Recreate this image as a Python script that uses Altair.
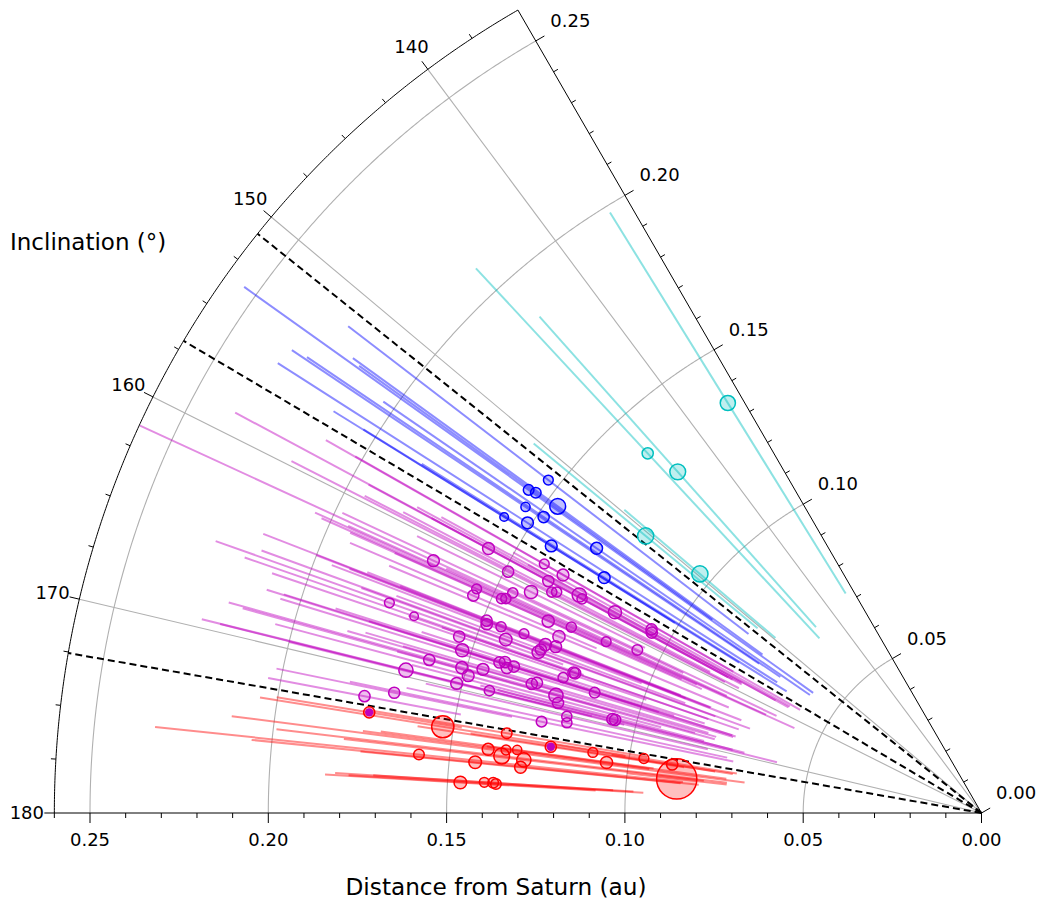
import numpy as np
import pandas as pd
import altair as alt

# ------------------------------------------------------------------
# Data: inclination (deg), semi-major axis a (au),
# apocentre Q (au) and marker radius for each moon, by group
# ------------------------------------------------------------------
cyan_inc = [136.31, 144.65, 143.76, 150.36, 149.75]
cyan_a   = [0.1352, 0.1376, 0.1281, 0.1221, 0.1036]
cyan_Q   = [0.1980, 0.2084, 0.1864, 0.1628, 0.1314]
cyan_s   = [8.0, 6.0, 8.3, 8.5, 8.5]

blue_inc = [151.84, 153.37, 153.23, 153.08, 154.60, 156.15, 154.46, 155.56, 156.13, 154.11, 156.03]
blue_a   = [0.1532, 0.1560, 0.1539, 0.1467, 0.1540, 0.1575, 0.1482, 0.1511, 0.1420, 0.1310, 0.1247]
blue_Q   = [0.2240, 0.2540, 0.2149, 0.2176, 0.2329, 0.2138, 0.2283, 0.2342, 0.2040, 0.2036, 0.1850]
blue_s   = [5.3, 5.7, 5.7, 8.3, 5.0, 4.7, 6.0, 6.3, 6.3, 6.3, 6.3]

mag_inc = [158.84, 161.46, 157.75, 157.78, 159.74, 158.87, 162.05, 162.63, 161.95, 161.80,
           161.14, 160.40, 159.59, 159.39, 158.66, 158.85, 165.34, 165.66, 158.47, 164.07,
           164.34, 164.11, 163.95, 162.08, 161.71, 158.18, 158.49, 166.00, 164.98, 163.01,
           164.00, 164.16, 165.04, 164.73, 161.60, 160.99, 166.95, 168.38, 169.55, 166.99,
           166.82, 167.26, 166.96, 168.28, 168.77, 167.94, 169.60, 165.75, 165.77, 166.56,
           167.99, 167.76, 169.53, 171.32, 171.96, 168.42, 169.08, 167.04, 170.17, 170.79,
           171.20, 169.30, 169.31]
mag_a = [0.1569, 0.1692, 0.1411, 0.1350, 0.1490, 0.1378, 0.1549, 0.1550, 0.1474, 0.1463,
         0.1452, 0.1407, 0.1355, 0.1343, 0.1283, 0.1271, 0.1762, 0.1684, 0.1172, 0.1489,
         0.1485, 0.1445, 0.1378, 0.1329, 0.1263, 0.1059, 0.1054, 0.1546, 0.1420, 0.1284,
         0.1282, 0.1311, 0.1322, 0.1318, 0.1157, 0.1068, 0.1526, 0.1607, 0.1663, 0.1416,
         0.1402, 0.1392, 0.1374, 0.1513, 0.1490, 0.1455, 0.1516, 0.1210, 0.1205, 0.1233,
         0.1312, 0.1299, 0.1422, 0.1681, 0.1761, 0.1238, 0.1227, 0.1136, 0.1194, 0.1190,
         0.1260, 0.1068, 0.1060]
mag_Q = [0.2375, 0.2598, 0.2021, 0.2115, 0.2172, 0.1950, 0.1937, 0.1926, 0.2027, 0.2050,
         0.1980, 0.1763, 0.1945, 0.1828, 0.1800, 0.1750, 0.2279, 0.2187, 0.1727, 0.2161,
         0.1950, 0.2000, 0.1850, 0.1800, 0.1950, 0.1503, 0.1450, 0.2100, 0.2149, 0.1800,
         0.1750, 0.1900, 0.1850, 0.1750, 0.1650, 0.1500, 0.2050, 0.2150, 0.2200, 0.2100,
         0.1900, 0.2056, 0.1800, 0.2192, 0.2050, 0.1688, 0.2000, 0.1700, 0.1600, 0.1650,
         0.1850, 0.1800, 0.2253, 0.2018, 0.2036, 0.1700, 0.1650, 0.1550, 0.1600, 0.1650,
         0.1809, 0.1450, 0.1400]
mag_s = [6.3, 6.3, 5.3, 6.3, 6.0, 6.0, 5.3, 6.0, 5.5, 5.5,
         5.5, 7.0, 5.5, 5.5, 7.5, 5.5, 5.3, 4.7, 7.0, 6.0,
         6.0, 5.5, 5.3, 6.5, 5.5, 6.0, 6.0, 6.0, 6.7, 6.5,
         6.3, 6.5, 6.7, 6.0, 5.3, 5.7, 7.0, 6.0, 7.5, 6.0,
         6.0, 6.0, 6.0, 6.5, 6.3, 6.3, 6.3, 6.0, 6.0, 5.5,
         6.0, 6.0, 5.5, 6.0, 6.0, 7.5, 6.0, 5.7, 5.5, 5.5,
         5.7, 6.0, 6.0]

red_inc = [173.00, 173.18, 172.85, 173.44, 175.55, 174.48, 174.34, 174.20, 174.92, 175.04,
           175.75, 175.71, 173.36, 174.25, 173.12, 173.32, 175.22, 177.49, 177.35, 177.34, 177.44]
red_a   = [0.1740, 0.1530, 0.1350, 0.1222, 0.1586, 0.1395, 0.1345, 0.1314, 0.1355, 0.1292,
           0.1299, 0.1427, 0.1103, 0.1061, 0.0959, 0.0878, 0.0860, 0.1464, 0.1397, 0.1372, 0.1364]
red_Q   = [0.2003, 0.2049, 0.1750, 0.1600, 0.2330, 0.2120, 0.1750, 0.1700, 0.1991, 0.1800,
           0.1750, 0.2057, 0.1450, 0.1400, 0.1223, 0.1050, 0.1001, 0.1844, 0.1816, 0.1709, 0.1778]
red_s   = [6.0, 11.5, 5.7, 6.0, 5.7, 6.3, 5.3, 5.0, 8.3, 7.5,
           6.3, 6.7, 5.3, 6.5, 5.3, 6.0, 20.5, 6.7, 5.3, 5.7, 5.7]
red_flag = [1, 0, 0, 1, 0, 0, 0, 0, 0, 0, 0, 0, 0, 0, 0, 0, 0, 0, 0, 0, 0]

group_boundaries = [151.0, 157.04, 172.55]

r_major = [0.00, 0.05, 0.10, 0.15, 0.20, 0.25]
r_minor = [i / 100 for i in range(1, 27) if i % 5 != 0]
r_grid = [0.05, 0.10, 0.15, 0.20, 0.25]
t_major = [140, 150, 160, 170, 180]
t_minor = [137.5, 142.5, 145, 147.5, 152.5, 155, 157.5, 162.5, 165, 167.5, 172.5, 175, 177.5]
t_grid = [140, 150, 160, 170]

# ------------------------------------------------------------------
# geometry: the 135-180 deg wedge is drawn stretched over 60 deg
# ------------------------------------------------------------------
PX = 3566.0          # pixels per au
R_OUT = 0.26
T_MIN = 135.0
STRETCH = 60.0 / 45.0


def L(px):
    return px / PX


def pol(r, inc):
    p = np.radians(180.0 - (180.0 - np.asarray(inc, dtype=float)) * STRETCH)
    r = np.asarray(r, dtype=float)
    return r * np.cos(p), r * np.sin(p)


W, H = 1029, 891
OX, OY = 973.5, 805.0     # origin inside the plot area (px)
xs = alt.Scale(domain=[-OX / PX, (W - OX) / PX], nice=False, zero=False)
ys = alt.Scale(domain=[-(H - OY) / PX, OY / PX], nice=False, zero=False)


def X(f):
    return alt.X(f"{f}:Q", scale=xs, axis=None)


def Y(f):
    return alt.Y(f"{f}:Q", scale=ys, axis=None)


# moons table
rows = []
for g, I, A, Qs, S, F in [
    ("cyan", cyan_inc, cyan_a, cyan_Q, cyan_s, [0] * len(cyan_inc)),
    ("blue", blue_inc, blue_a, blue_Q, blue_s, [0] * len(blue_inc)),
    ("magenta", mag_inc, mag_a, mag_Q, mag_s, [0] * len(mag_inc)),
    ("red", red_inc, red_a, red_Q, red_s, red_flag),
]:
    for i, a, Qv, s, f in zip(I, A, Qs, S, F):
        rows.append(dict(group=g, inc=i, a=a, Q=Qv, q=2 * a - Qv, s=s, flag=f))
moons = pd.DataFrame(rows)
moons["xa"], moons["ya"] = pol(moons["a"], moons["inc"])
moons["xq"], moons["yq"] = pol(moons["q"], moons["inc"])
moons["xQ"], moons["yQ"] = pol(moons["Q"], moons["inc"])
# vega circle symbol: radius = sqrt(size) / 2
moons["area"] = (2 * (moons["s"] - 0.4)) ** 2
moons["ord"] = np.arange(len(moons))

cscale = alt.Scale(domain=["cyan", "blue", "magenta", "red"],
                   range=["#00bfbf", "#0000ff", "#bf00bf", "#ff0000"])

# ---------------- grid ----------------
arc_rows = []
ts = np.linspace(T_MIN, 180.0, 361)
for r in r_grid + [R_OUT]:
    x, y = pol(r, ts)
    for k in range(len(ts)):
        arc_rows.append(dict(ring=r, k=k, x=x[k], y=y[k], outer=(r == R_OUT)))
arcs = pd.DataFrame(arc_rows)

grid_arcs = alt.Chart(arcs[~arcs.outer]).mark_line(color="#b0b0b0", strokeWidth=1.1).encode(
    x=X("x"), y=Y("y"), detail="ring:N", order="k:Q")
outer_arc = alt.Chart(arcs[arcs.outer]).mark_line(color="#000000", strokeWidth=1.0).encode(
    x=X("x"), y=Y("y"), detail="ring:N", order="k:Q")


def ray_df(incs, r0, r1):
    x0, y0 = pol([r0] * len(incs), incs)
    x1, y1 = pol([r1] * len(incs), incs)
    return pd.DataFrame(dict(x=x0, y=y0, x2=x1, y2=y1))


grid_rays = alt.Chart(ray_df(t_grid, 0, R_OUT)).mark_rule(color="#b0b0b0", strokeWidth=1.1).encode(
    x=X("x"), y=Y("y"), x2="x2:Q", y2="y2:Q")
edges = alt.Chart(ray_df([T_MIN, 180.0], 0, R_OUT)).mark_rule(color="#000000", strokeWidth=1.0).encode(
    x=X("x"), y=Y("y"), x2="x2:Q", y2="y2:Q")
dashed = alt.Chart(ray_df(group_boundaries, 0, R_OUT)).mark_rule(
    color="#000000", strokeWidth=2, strokeDash=[7, 4]).encode(
    x=X("x"), y=Y("y"), x2="x2:Q", y2="y2:Q")

# ---------------- moons ----------------
orbit_lines = alt.Chart(moons).mark_rule(strokeWidth=2, opacity=0.45).encode(
    x=X("xq"), y=Y("yq"), x2="xQ:Q", y2="yQ:Q",
    color=alt.Color("group:N", scale=cscale, legend=None), order="ord:Q")

circles = alt.Chart(moons).mark_point(
    shape="circle", filled=True, opacity=1, fillOpacity=0.25, strokeOpacity=1, strokeWidth=1.5
).encode(
    x=X("xa"), y=Y("ya"),
    fill=alt.Fill("group:N", scale=cscale, legend=None),
    stroke=alt.Stroke("group:N", scale=cscale, legend=None),
    size=alt.Size("area:Q", scale=None), order="ord:Q")

dots = alt.Chart(moons[moons.flag == 1]).mark_point(
    shape="circle", filled=True, opacity=1, color="#bf00bf", size=(2 * 4.2) ** 2).encode(
    x=X("xa"), y=Y("ya"))

# ---------------- ticks ----------------
tick_rows = []
n30 = (np.cos(np.radians(30)), np.sin(np.radians(30)))
for r in r_major + r_minor:
    ln = L(10) if r in r_major else L(5)
    # bottom edge (180 deg)
    tick_rows.append(dict(x=-r, y=0.0, x2=-r, y2=-ln))
    # top edge (135 deg)
    if r <= 0.25:
        x0, y0 = pol(r, T_MIN)
        tick_rows.append(dict(x=float(x0), y=float(y0), x2=float(x0) + ln * n30[0], y2=float(y0) + ln * n30[1]))
for t in t_major + t_minor:
    ln = L(10) if t in t_major else L(5)
    x0, y0 = pol(R_OUT, t)
    x1, y1 = pol(R_OUT + ln, t)
    tick_rows.append(dict(x=float(x0), y=float(y0), x2=float(x1), y2=float(y1)))
ticks = alt.Chart(pd.DataFrame(tick_rows)).mark_rule(color="#000000", strokeWidth=1.0).encode(
    x=X("x"), y=Y("y"), x2="x2:Q", y2="y2:Q")

# ---------------- labels ----------------
lab_rows = []
for r in r_major:
    lab_rows.append(dict(x=-r, y=-L(27), t=f"{r:.2f}"))
    x0, y0 = pol(r, T_MIN)
    lab_rows.append(dict(x=float(x0) + L(40) * n30[0], y=float(y0) + L(40) * n30[1], t=f"{r:.2f}"))
for t in t_major:
    x0, y0 = pol(R_OUT + L(27.5), t)
    lab_rows.append(dict(x=float(x0), y=float(y0), t=str(t)))
labels = alt.Chart(pd.DataFrame(lab_rows)).mark_text(
    font="DejaVu Sans", fontSize=18, color="#000000", align="center", baseline="middle", dy=1).encode(
    x=X("x"), y=Y("y"), text="t:N")

title_y = alt.Chart(pd.DataFrame({"t": ["Inclination (°)"]})).mark_text(
    font="DejaVu Sans", fontSize=23, color="#000000", align="left", baseline="alphabetic").encode(
    x=alt.value(2), y=alt.value(242), text="t:N")
title_x = alt.Chart(pd.DataFrame({"t": ["Distance from Saturn (au)"]})).mark_text(
    font="DejaVu Sans", fontSize=23.2, color="#000000", align="center", baseline="alphabetic").encode(
    x=alt.value(488), y=alt.value(887), text="t:N")

chart = alt.layer(
    grid_arcs, grid_rays, orbit_lines, dashed, circles, dots,
    edges, outer_arc, ticks, labels, title_y, title_x
).properties(
    width=W, height=H, padding=0, autosize=alt.AutoSizeParams(type="none")
).configure_view(strokeWidth=0)

chart.save("out.html", embed_options={"renderer": "svg", "actions": False})
